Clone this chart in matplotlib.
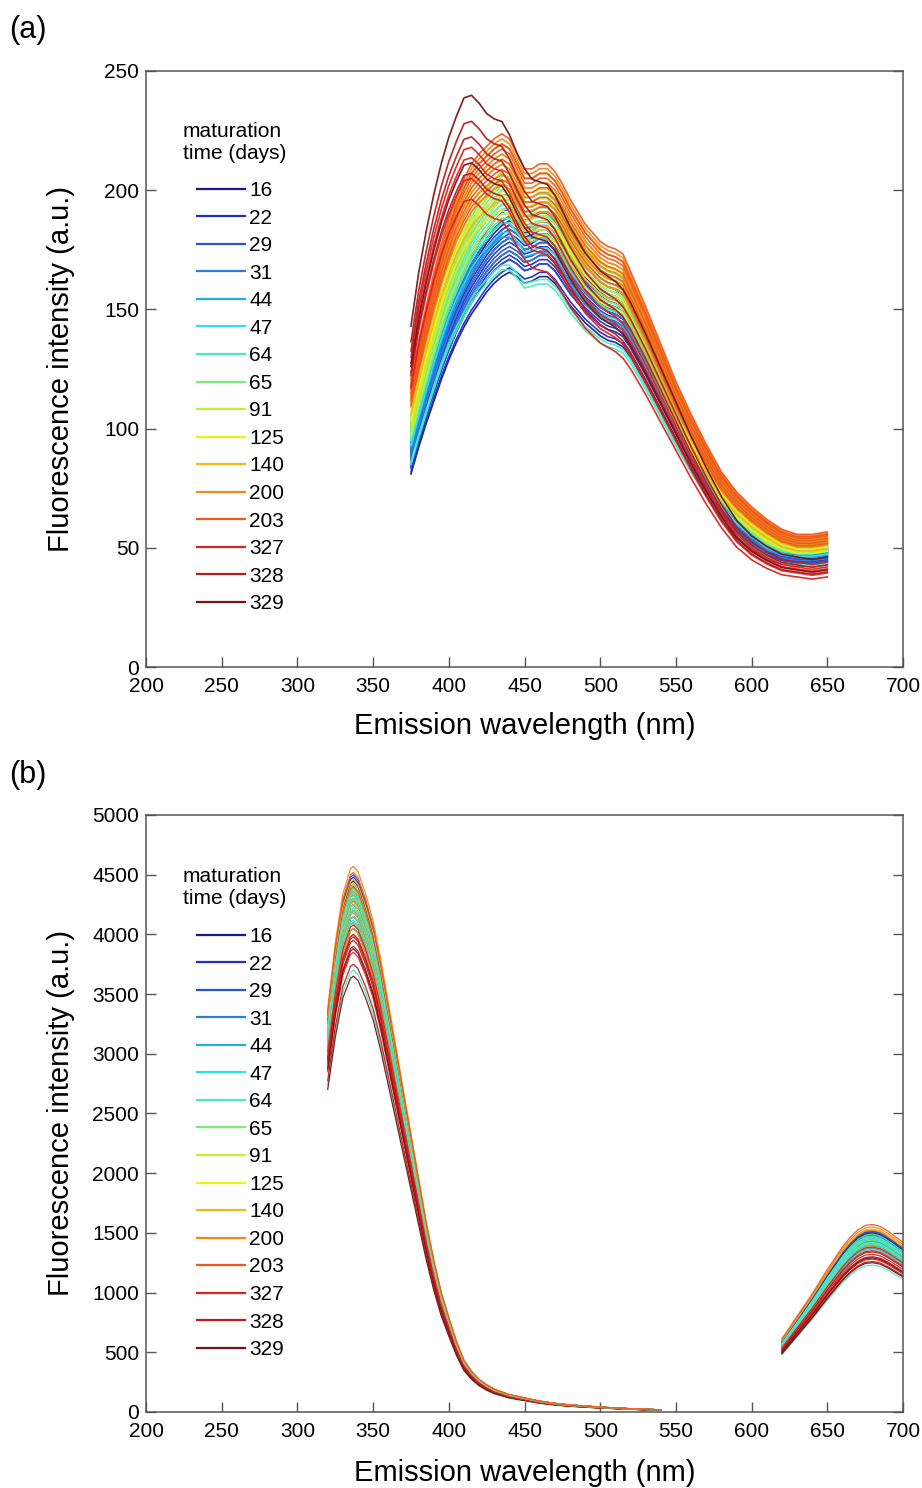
import numpy as np
import matplotlib
matplotlib.use("Agg")
import matplotlib.pyplot as plt
from matplotlib.lines import Line2D

plt.rcParams['font.family'] = ['Liberation Sans', 'DejaVu Sans']

# ---------------------------------------------------------------- data
days = ['16', '22', '29', '31', '44', '47', '64', '65', '91',
        '125', '140', '200', '203', '327', '328', '329']
day_colors = ['#1a1a8c', '#1f2ec4', '#2a52d6', '#2a7ee0', '#22aee0', '#2ee0ee',
              '#4aeac4', '#7aec7a', '#c4ee3a', '#f2ee10', '#f2b818', '#ee8a18',
              '#ee5a1e', '#e2201e', '#b81c1c', '#7a1212']

# (a) emission spectra, wavelengths in nm
wl_a = [375, 380, 385, 390, 395, 400, 405, 410, 415, 420, 425, 430, 435, 440,
        445, 450, 455, 460, 465, 470, 475, 480, 490, 500, 505, 510, 515, 520,
        530, 540, 550, 560, 570, 580, 590, 600, 610, 620, 630, 640, 650]
spec_young = [88, 100, 111, 121, 131, 140, 148, 155, 161, 166, 171, 175, 178, 180,
              178, 175, 176, 178, 178, 175, 170, 165, 157, 151, 149, 148, 146, 141,
              129, 116, 103, 90, 78, 67, 59, 53, 49, 47, 46, 46, 47]
spec_mid = [100, 113, 125, 137, 148, 158, 166, 173, 180, 185, 189, 193, 196, 196,
            192, 187, 188, 189, 189, 186, 181, 175, 166, 160, 158, 157, 155, 150,
            137, 123, 109, 96, 84, 73, 65, 59, 54, 51, 50, 50, 51]
spec_ripe = [115, 130, 144, 157, 169, 179, 188, 195, 201, 205, 208, 211, 213, 211,
             205, 199, 199, 201, 201, 198, 193, 187, 177, 170, 168, 167, 165, 158,
             144, 129, 114, 101, 89, 78, 70, 64, 59, 55, 53, 53, 54]
spec_old = [130, 150, 166, 180, 192, 202, 210, 217, 218, 215, 211, 209, 208, 203,
            196, 190, 186, 185, 184, 180, 174, 168, 158, 151, 149, 147, 144, 139,
            127, 114, 101, 88, 76, 65, 56, 50, 46, 43, 42, 41, 42]
spectrum_of_day = ['young', 'young', 'young', 'young', 'mid', 'mid', 'mid', 'mid',
                   'mid', 'ripe', 'ripe', 'ripe', 'ripe', 'old', 'old', 'old']
# relative intensity of each replicate sample
gain_a = [[0.92, 0.95, 0.97, 1.00, 1.02, 1.04],
          [0.93, 0.96, 0.99, 1.01, 1.03, 1.05],
          [0.95, 0.98, 1.00, 1.03, 1.05, 1.07],
          [0.97, 1.00, 1.02, 1.05, 1.07],
          [0.92, 0.95, 0.97, 1.00, 1.02],
          [0.93, 0.96, 0.99, 1.01, 1.04],
          [0.85, 0.86, 0.95, 0.98, 1.00, 1.02],
          [0.96, 0.99, 1.01, 1.03, 1.05],
          [0.97, 1.00, 1.02, 1.04, 1.06],
          [0.90, 0.93, 0.95, 0.97, 1.00],
          [0.92, 0.95, 0.97, 0.99, 1.01, 1.03],
          [0.95, 0.97, 0.99, 1.01, 1.03, 1.04],
          [0.96, 0.98, 1.00, 1.02, 1.03, 1.05],
          [0.90, 0.94, 0.98, 1.00],
          [0.95, 1.02, 1.05],
          [0.97, 1.10]]

# (b) tryptophan band and chlorophyll band, relative to their maxima
wl_uv = [320, 325, 330, 335, 337, 340, 345, 350, 355, 360, 365, 370, 375, 380,
         385, 390, 395, 400, 405, 410, 415, 420, 425, 430, 440, 450, 460, 470,
         480, 490, 500, 520, 540]
uv_shape = [0.74, 0.86, 0.95, 0.995, 1.0, 0.99, 0.95, 0.90, 0.83, 0.75, 0.67, 0.59,
            0.51, 0.43, 0.35, 0.28, 0.22, 0.174, 0.13, 0.095, 0.075, 0.06, 0.05,
            0.042, 0.032, 0.026, 0.020, 0.016, 0.013, 0.011, 0.009, 0.006, 0.004]
wl_chl = [620, 630, 640, 650, 655, 660, 665, 670, 675, 680, 685, 690, 695, 700]
chl_shape = [0.39, 0.51, 0.63, 0.76, 0.82, 0.88, 0.93, 0.97, 0.995, 1.0, 0.99,
             0.965, 0.935, 0.905]
uv_peak = [[4050, 4150, 4250, 4350, 4400, 4450],
           [4100, 4200, 4300, 4350, 4420, 4480],
           [4150, 4250, 4300, 4380, 4450, 4500],
           [4100, 4200, 4280, 4350, 4420],
           [4050, 4150, 4250, 4330, 4400],
           [4000, 4120, 4220, 4300, 4380],
           [3700, 3950, 4100, 4200, 4300, 4350],
           [4050, 4150, 4250, 4320, 4400],
           [4100, 4200, 4270, 4350, 4420],
           [4150, 4230, 4300, 4380, 4450],
           [4100, 4200, 4280, 4360, 4420, 4460],
           [4050, 4180, 4280, 4360, 4450, 4570],
           [4000, 4100, 4200, 4300, 4400, 4520],
           [3850, 3950, 4000, 4080],
           [3750, 3900, 3980],
           [3650, 3880]]
chl_peak = [[1380, 1420, 1440, 1460, 1480, 1500],
            [1390, 1420, 1450, 1470, 1490, 1510],
            [1400, 1430, 1450, 1470, 1490, 1510],
            [1380, 1410, 1440, 1460, 1480],
            [1370, 1400, 1430, 1450, 1470],
            [1360, 1400, 1420, 1450, 1470],
            [1230, 1300, 1380, 1420, 1450, 1470],
            [1380, 1410, 1440, 1460, 1490],
            [1390, 1420, 1450, 1480, 1500],
            [1400, 1430, 1460, 1490, 1520],
            [1400, 1440, 1460, 1480, 1510, 1530],
            [1390, 1420, 1450, 1480, 1520, 1550],
            [1400, 1430, 1460, 1490, 1530, 1570],
            [1280, 1320, 1350, 1380],
            [1260, 1300, 1340],
            [1250, 1290]]

# ---------------------------------------------------------------- figure
fig = plt.figure(figsize=(9.22, 14.88), dpi=100)
ax_a = fig.add_axes([0.1584, 0.5517, 0.8210, 0.4006])
ax_b = fig.add_axes([0.1584, 0.0511, 0.8210, 0.4012])

spectra = {'young': spec_young, 'mid': spec_mid, 'ripe': spec_ripe, 'old': spec_old}
for gi, day in enumerate(days):
    base = np.array(spectra[spectrum_of_day[gi]], dtype=float)
    for g in gain_a[gi]:
        ax_a.plot(wl_a, base * g, color=day_colors[gi], lw=1.2, alpha=0.95)

uv = np.array(uv_shape)
chl = np.array(chl_shape)
n_rep = max(len(p) for p in uv_peak)
for r in range(n_rep):
    for gi, day in enumerate(days):
        if r < len(uv_peak[gi]):
            ax_b.plot(wl_uv, uv * uv_peak[gi][r], color=day_colors[gi], lw=0.9, alpha=0.95)
            ax_b.plot(wl_chl, chl * chl_peak[gi][r], color=day_colors[gi], lw=0.9, alpha=0.95)

handles = [Line2D([], [], color=c, lw=1.6) for c in day_colors]


def style_axes(ax, ymax, ystep, title_top, legend_top, xlabel_y):
    ax.set_xlim(200, 700)
    ax.set_ylim(0, ymax)
    ax.set_xticks(np.arange(200, 701, 50))
    ax.set_yticks(np.arange(0, ymax + 1, ystep))
    ax.tick_params(axis='both', direction='in', length=7, width=1.0, color='#555555',
                   labelsize=15, right=True, top=False)
    ax.tick_params(axis='x', pad=7)
    ax.tick_params(axis='y', pad=5)
    for s in ax.spines.values():
        s.set_color('#555555')
        s.set_linewidth(1.1)
    ax.set_xlabel('Emission wavelength (nm)', fontsize=21)
    ax.set_ylabel('Fluorescence intensity (a.u.)', fontsize=21)
    ax.xaxis.set_label_coords(0.5, xlabel_y)
    ax.yaxis.set_label_coords(-0.094, 0.5)
    ax.text(0.0489, title_top, 'maturation\ntime (days)', transform=ax.transAxes,
            fontsize=15, va='top', ha='left', linespacing=1.2)
    ax.legend(handles, days, loc='upper left', bbox_to_anchor=(0.0674, legend_top),
              frameon=False, fontsize=15, handlelength=2.3, handletextpad=0.2,
              labelspacing=0.41, borderaxespad=0, borderpad=0)


style_axes(ax_a, 250, 50, 0.915, 0.8154, -0.075)
style_axes(ax_b, 5000, 500, 0.913, 0.8124, -0.078)

fig.text(0.010, 0.980, '(a)', fontsize=22, va='center', ha='left')
fig.text(0.010, 0.479, '(b)', fontsize=22, va='center', ha='left')

fig.savefig('out.png', dpi=100)
